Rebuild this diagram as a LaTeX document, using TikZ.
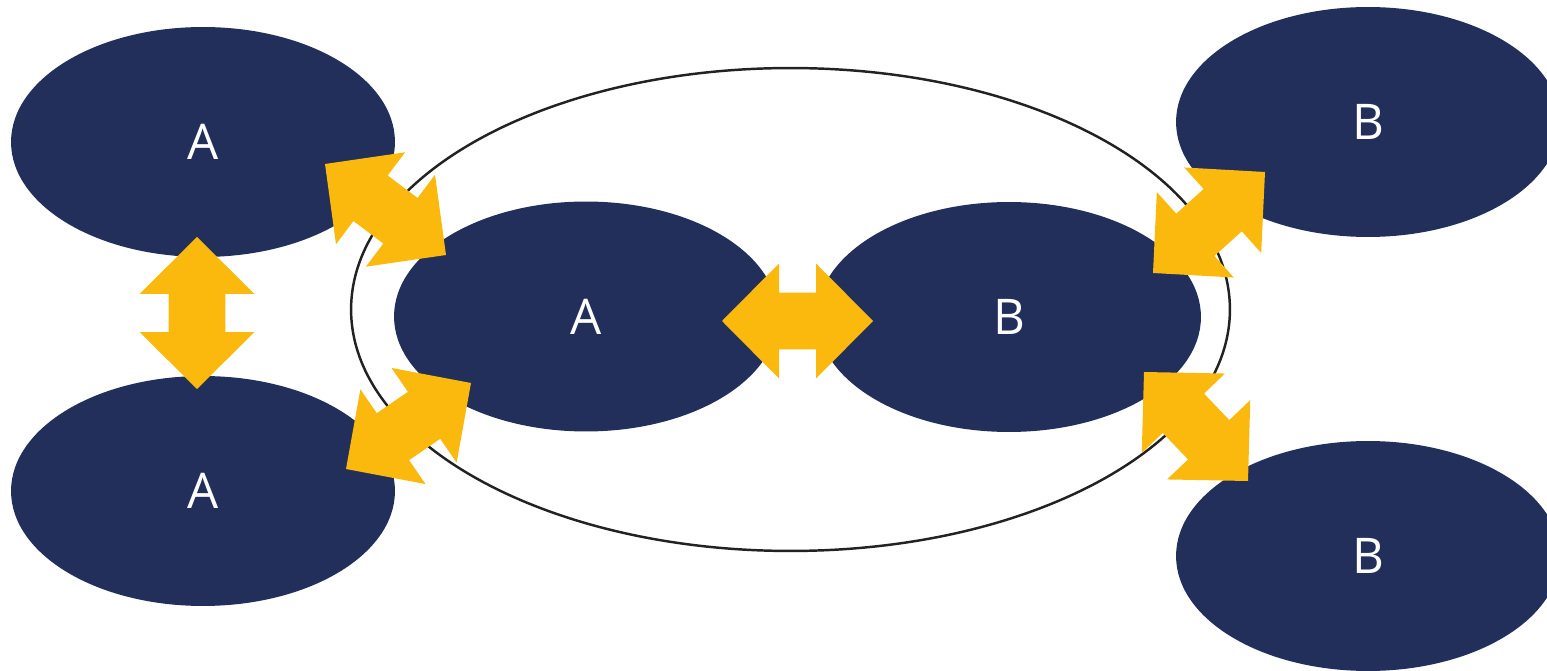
\documentclass[tikz,border=0pt]{standalone}
\usepackage{fontspec}
\newfontfamily\lblfont{Open Sans}
\usetikzlibrary{shapes.geometric,calc}
\definecolor{navy}{HTML}{212F5A}
\definecolor{gold}{HTML}{FBB90D}
\definecolor{ring}{HTML}{222222}
\tikzset{
  blob/.style={ellipse, fill=navy, draw=none, inner sep=0pt,
    minimum width=7.68cm, minimum height=4.6cm,
    text=white, font=\lblfont\fontsize{28}{30}\selectfont},
  ringline/.style={draw=ring, line width=1.4pt},
  arrowfill/.style={fill=gold, draw=none}
}
\newcommand\dblarrow[2]{%
  \fill[arrowfill] (#1)
    -- ($(#1)!1.14cm!(#2)!1.15cm!90:(#2)$)
    -- ($(#1)!1.14cm!(#2)!0.57cm!90:(#2)$)
    -- ($(#2)!1.14cm!(#1)!0.57cm!-90:(#1)$)
    -- ($(#2)!1.14cm!(#1)!1.15cm!-90:(#1)$)
    -- (#2)
    -- ($(#2)!1.14cm!(#1)!1.15cm!90:(#1)$)
    -- ($(#2)!1.14cm!(#1)!0.57cm!90:(#1)$)
    -- ($(#1)!1.14cm!(#2)!0.57cm!-90:(#2)$)
    -- ($(#1)!1.14cm!(#2)!1.15cm!-90:(#2)$)
    -- cycle;}
\begin{document}
\begin{tikzpicture}[x=0.02cm,y=-0.02cm]
\useasboundingbox (0,0) rectangle (1547,671);
\clip (0,0) rectangle (1547,671);
% outer ring
\node[ellipse, ringline, inner sep=0pt, minimum width=17.58cm, minimum height=9.66cm] (ring) at (790.5,309.5) {};
% ellipses
\node[blob] (a1) at (203,142) {A};
\node[blob] (a2) at (203,491) {A};
\node[blob] (am) at (586,316.5) {A};
\node[blob] (bm) at (1009,317) {B};
\node[blob] (b1) at (1368,122) {B};
\node[blob] (b2) at (1368,556) {B};
% arrow tips
\coordinate (v1) at (197,237);
\coordinate (v2) at (197,389);
\coordinate (h1) at (722,321);
\coordinate (h2) at (873,321);
\coordinate (tl1) at (325,164);
\coordinate (tl2) at (446,255);
\coordinate (bl1) at (346,469);
\coordinate (bl2) at (471,383);
\coordinate (tr1) at (1153,273);
\coordinate (tr2) at (1265,172);
\coordinate (br1) at (1144,372);
\coordinate (br2) at (1248,481);
\dblarrow{v1}{v2}
\dblarrow{h1}{h2}
\dblarrow{tl1}{tl2}
\dblarrow{bl1}{bl2}
\dblarrow{tr1}{tr2}
\dblarrow{br1}{br2}
\end{tikzpicture}
\end{document}
